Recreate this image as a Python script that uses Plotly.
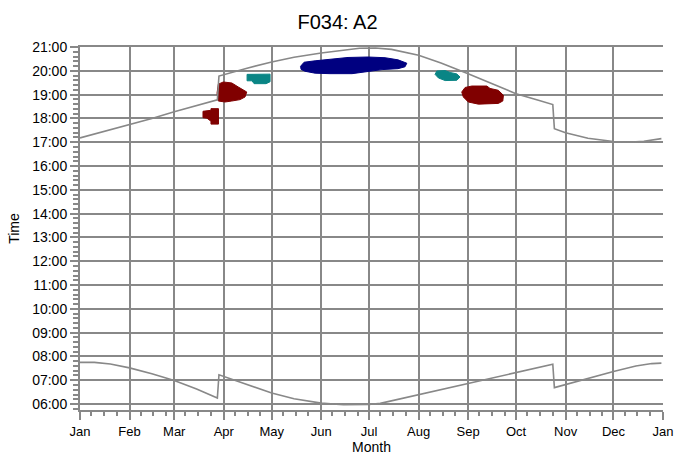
import pandas as pd
import plotly.graph_objects as go

YEAR_START = pd.Timestamp("2015-01-01")
YEAR_END = pd.Timestamp("2016-01-01")

# Sunset times (decimal hours, local clock time incl. summer time)
sunset_dates = ["2015-01-01", "2015-01-15", "2015-02-01", "2015-02-15", "2015-03-01",
                "2015-03-15", "2015-03-28", "2015-03-29", "2015-04-01", "2015-04-15",
                "2015-05-01", "2015-05-15", "2015-06-01", "2015-06-15", "2015-06-25",
                "2015-07-05", "2015-07-15", "2015-08-01", "2015-08-15", "2015-09-01",
                "2015-09-15", "2015-10-01", "2015-10-15", "2015-10-24", "2015-10-25",
                "2015-11-01", "2015-11-15", "2015-12-01", "2015-12-10", "2015-12-20",
                "2015-12-31"]
sunset_hours = [17.18, 17.43, 17.73, 18.00, 18.28,
                18.55, 18.78, 19.78, 19.84, 20.10,
                20.37, 20.57, 20.75, 20.88, 20.95,
                20.96, 20.90, 20.65, 20.33, 19.88,
                19.48, 19.04, 18.76, 18.58, 17.57,
                17.40, 17.17, 17.03, 17.00, 17.04,
                17.15]

# Sunrise times (decimal hours)
sunrise_dates = ["2015-01-01", "2015-01-10", "2015-01-20", "2015-02-01", "2015-02-15",
                 "2015-03-01", "2015-03-15", "2015-03-28", "2015-03-29", "2015-04-01",
                 "2015-04-15", "2015-05-01", "2015-05-15", "2015-06-01", "2015-06-15",
                 "2015-07-01", "2015-07-08", "2015-08-01", "2015-08-15", "2015-09-01",
                 "2015-09-15", "2015-10-01", "2015-10-15", "2015-10-24", "2015-10-25",
                 "2015-11-01", "2015-11-15", "2015-12-01", "2015-12-15", "2015-12-25",
                 "2015-12-31"]
sunrise_hours = [7.75, 7.75, 7.68, 7.52, 7.27,
                 6.99, 6.63, 6.25, 7.23, 7.16,
                 6.82, 6.46, 6.22, 6.04, 5.97,
                 5.98, 6.03, 6.39, 6.62, 6.88,
                 7.08, 7.30, 7.52, 7.67, 6.69,
                 6.82, 7.08, 7.37, 7.60, 7.70,
                 7.72]

# Activity regions: outlines as (day of year, decimal hour)
red_a_days = [77.0, 82.0, 82.0, 86.7, 86.7, 82.0, 82.0, 79.5, 77.0]
red_a_hours = [18.30, 18.34, 18.41, 18.41, 17.76, 17.76, 17.88, 18.01, 18.03]

red_b_days = [85.8, 86.6, 89.7, 95.0, 99.1, 104.4, 103.3, 100.2, 95.0, 90.8, 86.6]
red_b_hours = [19.06, 19.44, 19.53, 19.49, 19.32, 19.11, 18.90, 18.79, 18.73, 18.69, 18.73]

teal_a_days = [104.6, 119.0, 119.0, 116.5, 109.0, 107.7, 104.6]
teal_a_hours = [19.85, 19.86, 19.54, 19.46, 19.46, 19.58, 19.58]

navy_days = [138.1, 140.3, 147.2, 156.5, 167.8, 180.3, 191.0, 199.1, 204.6,
             203.5, 199.1, 189.1, 180.3, 170.3, 156.5, 147.2, 140.9, 138.4]
navy_hours = [20.19, 20.36, 20.42, 20.48, 20.56, 20.58, 20.55, 20.46, 20.32,
              20.17, 20.09, 20.05, 19.98, 19.88, 19.88, 19.90, 19.98, 20.06]

teal_b_days = [223.4, 228.6, 231.7, 235.9, 237.9, 235.9, 228.6, 224.4, 222.3]
teal_b_hours = [19.99, 20.01, 19.93, 19.87, 19.74, 19.60, 19.59, 19.70, 19.85]

red_c_days = [239.0, 241.1, 245.3, 254.7, 256.7, 261.9, 265.1, 264.7, 261.9,
              249.4, 243.1, 240.0]
red_c_hours = [19.11, 19.30, 19.36, 19.36, 19.26, 19.18, 18.97, 18.73, 18.63,
               18.60, 18.69, 18.90]

hour_ticks = list(range(6, 22))
hour_labels = [f"{h:02d}:00" for h in hour_ticks]

GREY = "#888888"
MAROON = "#800000"
TEAL = "#0a8585"
NAVY = "#000080"
FONT = "Liberation Sans, Arial, sans-serif"


def to_dates(days):
    return [YEAR_START + pd.Timedelta(days=d) for d in days]


fig = go.Figure()

regions = [
    (red_a_days, red_a_hours, MAROON),
    (red_b_days, red_b_hours, MAROON),
    (teal_a_days, teal_a_hours, TEAL),
    (navy_days, navy_hours, NAVY),
    (teal_b_days, teal_b_hours, TEAL),
    (red_c_days, red_c_hours, MAROON),
]
for days, hours, color in regions:
    fig.add_trace(go.Scatter(
        x=to_dates(days + days[:1]), y=hours + hours[:1],
        mode="lines", fill="toself", fillcolor=color,
        line=dict(color=color, width=1), hoverinfo="skip", showlegend=False))

for dates, hours in [(sunset_dates, sunset_hours), (sunrise_dates, sunrise_hours)]:
    fig.add_trace(go.Scatter(
        x=pd.to_datetime(dates), y=hours, mode="lines",
        line=dict(color=GREY, width=1.6), showlegend=False))

# minor ticks: three per month
minor_x = [YEAR_START + pd.DateOffset(months=m, days=d)
           for m in range(12) for d in (7, 15, 23)]

fig.update_layout(
    template="none",
    width=675, height=455,
    margin=dict(l=80, r=12, t=47, b=45),
    paper_bgcolor="white", plot_bgcolor="white",
    font=dict(family=FONT, size=14, color="black"),
    title=dict(text="F034: A2", x=0.5, xanchor="center", y=1 - 22 / 455,
               yanchor="middle", font=dict(size=20, family=FONT, color="black")),
    showlegend=False,
)

fig.update_xaxes(
    range=[YEAR_START, YEAR_END], type="date",
    dtick="M1", tick0="2015-01-01", tickformat="%b",
    tickfont=dict(size=13),
    showgrid=True, gridcolor=GREY, gridwidth=2,
    showline=True, linecolor=GREY, linewidth=2, mirror=True,
    ticks="outside", ticklen=8, tickwidth=2, tickcolor=GREY,
    minor=dict(tickmode="array", tickvals=minor_x, ticks="outside",
               ticklen=4, tickwidth=2, tickcolor=GREY, showgrid=False),
    zeroline=False, automargin=False,
    title=dict(text="Month", standoff=3, font=dict(size=14)),
)

fig.update_yaxes(
    range=[5.75, 21], tickmode="array", tickvals=hour_ticks, ticktext=hour_labels,
    showgrid=True, gridcolor=GREY, gridwidth=2,
    showline=True, linecolor=GREY, linewidth=2, mirror=False,
    ticks="outside", ticklen=8, tickwidth=2, tickcolor=GREY,
    minor=dict(tick0=6, dtick=0.2, ticks="outside", ticklen=5,
               tickwidth=2, tickcolor=GREY, showgrid=False),
    zeroline=False, automargin=False,
    title=dict(text="Time", standoff=9, font=dict(size=14)),
)

fig.write_html("out.html")
